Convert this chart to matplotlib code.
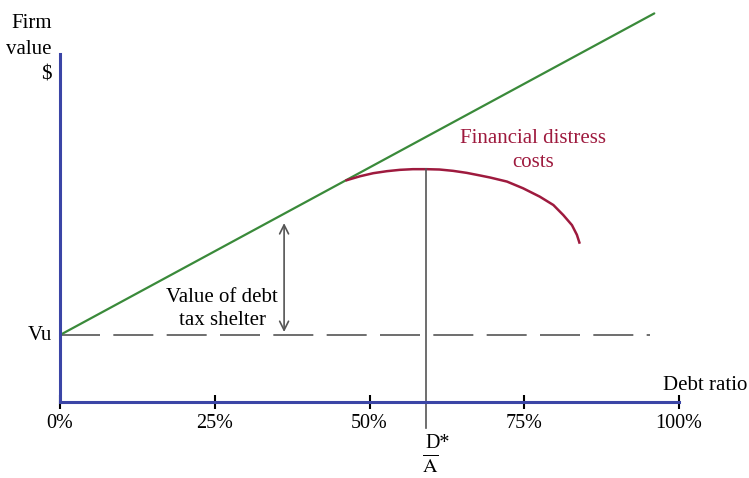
import matplotlib
matplotlib.use("Agg")
import matplotlib.pyplot as plt

plt.rcParams['font.family'] = ['Liberation Serif', 'DejaVu Serif']
plt.rcParams['mathtext.fontset'] = 'stix'

# debt ratio ticks
tick_pos = [0, 25, 50, 75, 100]
tick_labels = ["0%", "25%", "50%", "75%", "100%"]

# firm value with taxes only (green)
vu = 20
levered_x = [0, 96]
levered_y = [20, 116]

# firm value after financial distress costs (red)
distress_x = [46.3, 48.5, 50.6, 52.8, 54.9, 57.0, 59.2, 61.3, 63.5, 65.7,
              67.9, 69.5, 72.2, 74.8, 77.5, 79.7, 81.3, 82.7, 83.5, 83.9]
distress_y = [66.2, 67.4, 68.3, 68.9, 69.3, 69.5, 69.5, 69.4, 69.0, 68.4,
              67.6, 67.0, 65.8, 63.8, 61.3, 58.8, 55.8, 52.8, 49.9, 47.6]

# optimal debt ratio D*/A
opt_x = 59.2
opt_y = 69.5
shelter_x = 36.2

blue = "#3b45a6"
green = "#3a8a3a"
red = "#9e1a3e"
grey = "#555555"

fig = plt.figure(figsize=(7.49, 4.78), dpi=100)
ax = fig.add_axes([60/749, 76/478, 689/749, 402/478])
ax.set_xlim(0, 111.3)
ax.set_ylim(0, 120)

ax.spines["top"].set_visible(False)
ax.spines["right"].set_visible(False)
ax.spines["left"].set_color(blue)
ax.spines["bottom"].set_color(blue)
ax.spines["left"].set_linewidth(2.2)
ax.spines["bottom"].set_linewidth(2.2)
ax.spines["left"].set_bounds(0, 104)
ax.spines["bottom"].set_bounds(0, 100)

ax.set_xticks(tick_pos)
ax.set_xticklabels(tick_labels, fontsize=14.5)
ax.tick_params(axis="x", direction="inout", length=10, width=1.5, color="black", pad=4)
ax.set_yticks([])

# Vu dashed line
ax.plot([0, 95.3], [vu, vu], color=grey, lw=1.2, dashes=(24, 8))
# green line
ax.plot(levered_x, levered_y, color=green, lw=1.6, solid_capstyle="round")
# red curve
ax.plot(distress_x, distress_y, color=red, lw=1.8)
# vertical line at optimum
ax.plot([opt_x, opt_x], [opt_y, -7.8], color=grey, lw=1.2, clip_on=False)

# tax shelter arrow
ax.annotate("", xy=(shelter_x, 53.4), xytext=(shelter_x, 20.9),
            arrowprops=dict(arrowstyle="<->", color=grey, lw=1.2,
                            shrinkA=0, shrinkB=0, mutation_scale=16))

ax.text(26.2, 27.8, "Value of debt\ntax shelter", fontsize=15, ha="center",
        va="center", linespacing=1.3)
ax.text(76.4, 75.2, "Financial distress\ncosts", fontsize=15, ha="center",
        va="center", color=red, linespacing=1.35)

fig.text(52/749, 1 - 49/478, "Firm\nvalue\n$", fontsize=15, ha="right",
         va="center", linespacing=1.5)
fig.text(52/749, 1 - 335/478, "Vu", fontsize=15, ha="right", va="center")
fig.text(663/749, 1 - 385/478, "Debt ratio", fontsize=15, ha="left", va="center")
fig.text(438/749, 1 - 443/478, "D*", fontsize=14.5, ha="center", va="center")
fig.text(430/749, 1 - 466/478, r"$\overline{\mathrm{A}}$", fontsize=14.5,
         ha="center", va="center")

fig.savefig("out.png", dpi=100)
